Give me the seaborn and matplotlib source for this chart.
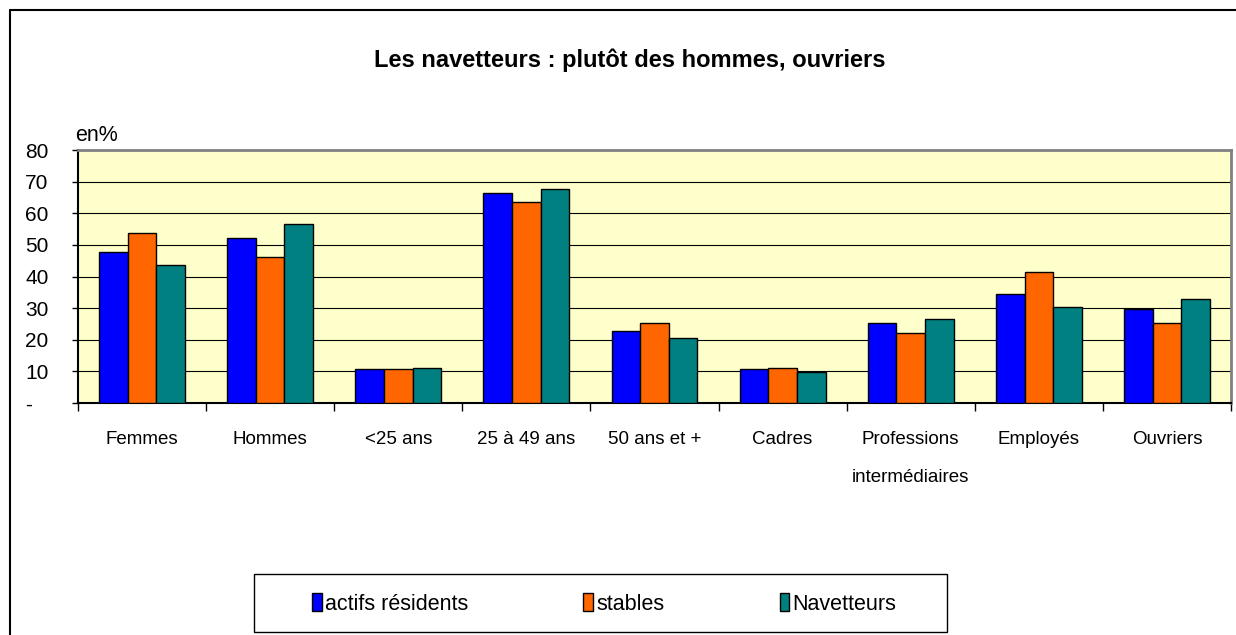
import matplotlib
matplotlib.use("Agg")
import matplotlib.pyplot as plt
from matplotlib.patches import Rectangle
from matplotlib.lines import Line2D
import seaborn as sns
import pandas as pd

categories = ["Femmes", "Hommes", "<25 ans", "25 à 49 ans", "50 ans et +",
              "Cadres", "Professions\nintermédiaires", "Employés", "Ouvriers"]
series_names = ["actifs résidents", "stables", "Navetteurs"]
actifs_residents = [47.7, 52.2, 10.6, 66.5, 22.8, 10.6, 25.2, 34.5, 29.7]
stables = [53.7, 46.2, 10.6, 63.5, 25.2, 11.2, 22.1, 41.3, 25.2]
navetteurs = [43.5, 56.7, 11.2, 67.8, 20.5, 9.8, 26.6, 30.5, 32.8]
ytick_values = [0, 10, 20, 30, 40, 50, 60, 70, 80]
ytick_labels = ["-", "10", "20", "30", "40", "50", "60", "70", "80"]
colors = {"actifs résidents": "#0000FF", "stables": "#FF6600", "Navetteurs": "#008080"}

rows = []
for name, vals in zip(series_names, [actifs_residents, stables, navetteurs]):
    for c, v in zip(categories, vals):
        rows.append({"cat": c, "serie": name, "val": v})
df = pd.DataFrame(rows)

sns.set_theme(style="white")
plt.rcParams["font.family"] = ["Liberation Sans", "DejaVu Sans"]
for key in ["text.color", "axes.labelcolor", "xtick.color", "ytick.color"]:
    plt.rcParams[key] = "black"

W, H = 1236, 635
fig = plt.figure(figsize=(W / 100, H / 100), dpi=100)
fig.patch.set_facecolor("white")
ax = fig.add_axes([78 / W, 1 - 403 / H, (1231 - 78) / W, (403 - 150) / H])
ax.set_facecolor("#FFFFCC")

sns.barplot(data=df, x="cat", y="val", hue="serie", order=categories,
            hue_order=series_names, palette=colors, width=0.67,
            edgecolor="black", linewidth=1.0, saturation=1, ax=ax, zorder=3)

ax.set_xlim(-0.5, len(categories) - 0.5)
ax.set_ylim(0, 80)
ax.set_xlabel("")
ax.set_ylabel("")

# gridlines
for v in ytick_values[1:-1]:
    ax.axhline(v, color="black", lw=0.8, zorder=1)

# y ticks
ax.set_yticks(ytick_values)
ax.set_yticklabels(ytick_labels, ha="left")
ax.tick_params(axis="y", direction="out", length=4.5, width=1, color="black",
               pad=33.5, labelsize=15, left=True, labelcolor="black")

# x ticks: boundaries (major, no labels), centers (minor, labels)
ax.set_xticks([i - 0.5 for i in range(len(categories) + 1)])
ax.set_xticklabels([])
ax.tick_params(axis="x", which="major", direction="out", length=6, width=1,
               color="black", bottom=True)
ax.tick_params(axis="x", which="minor", length=0, pad=20, labelsize=13.5,
               labelcolor="black")
ax.set_xticks(range(len(categories)), minor=True)
ax.set_xticklabels(categories, minor=True)
for t in ax.get_xticklabels(minor=True):
    t.set_linespacing(2.6)

for s in ["left", "bottom"]:
    ax.spines[s].set_color("black")
    ax.spines[s].set_linewidth(1.5)
for s in ["top", "right"]:
    ax.spines[s].set_color("#808080")
    ax.spines[s].set_linewidth(2)

# legend
handles, labels = ax.get_legend_handles_labels()
if ax.get_legend() is not None:
    ax.get_legend().remove()
fig.legend(handles, labels, loc="center left",
           bbox_to_anchor=(312 / W, 1 - 604 / H), ncol=3, frameon=False,
           fontsize=15.5, handlelength=0.45, handleheight=0.85,
           handletextpad=0.15, columnspacing=5.35, borderpad=0,
           borderaxespad=0)
fig.patches.append(Rectangle((254 / W, 1 - 632 / H), (947 - 254) / W, (632 - 574) / H,
                             transform=fig.transFigure, fill=False,
                             edgecolor="black", lw=1, zorder=0))

# outer border (top and left)
fig.add_artist(Line2D([10 / W, 1], [1 - 10 / H, 1 - 10 / H], color="black", lw=1.5,
                      transform=fig.transFigure))
fig.add_artist(Line2D([10 / W, 10 / W], [0, 1 - 10 / H], color="black", lw=1.5,
                      transform=fig.transFigure))

# title & unit
fig.text(630 / W, 1 - 67 / H, "Les navetteurs : plutôt des hommes, ouvriers",
         ha="center", va="baseline", fontsize=17, fontweight="bold", color="black")
fig.text(75 / W, 1 - 135 / H, "en%", ha="left", va="center", fontsize=15.5,
         color="black")

fig.savefig("out.png", dpi=100, facecolor="white")
